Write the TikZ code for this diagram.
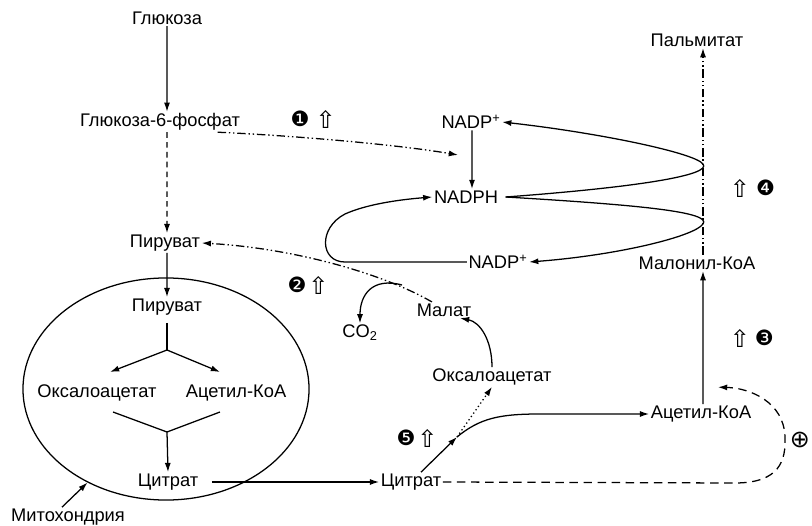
\documentclass[tikz,border=0pt]{standalone}
\usepackage{fontspec}
\setmainfont{Liberation Sans}
\newfontfamily\symfont{DejaVu Sans}
\usetikzlibrary{shapes,arrows,arrows.meta,positioning}

\begin{document}
\begin{tikzpicture}[x=0.025cm, y=-0.025cm, >={Latex[length=2.3mm,width=1.5mm]}]
    % Define styles
    \tikzstyle{chem} = [inner sep=1pt, font=\fontsize{13}{15}\selectfont]
    \tikzstyle{numdot} = [inner sep=0pt, font=\symfont\fontsize{15}{15}\selectfont]
    \tikzstyle{uparr} = [inner sep=0pt, font=\symfont\fontsize{17}{17}\selectfont]
    \tikzstyle{line} = [line width=0.9pt]
    \tikzstyle{arrow} = [line width=0.9pt,->]
    \tikzstyle{dashdotdot} = [line width=0.9pt, dash pattern=on 6pt off 2pt on 1pt off 2pt on 1pt off 2pt]
    \tikzstyle{shortdash} = [line width=0.9pt, dash pattern=on 4pt off 3pt]
    \tikzstyle{longdash} = [line width=0.9pt, dash pattern=on 6pt off 4pt]
    \useasboundingbox (0,0) rectangle (812,526);

    % Cytosol, left column
    \node [chem] (glu) at (167,18) {Глюкоза};
    \node [chem] (g6p) at (160,122) {Глюкоза-6-фосфат};
    \node [chem] (pir1) at (165,243) {Пируват};

    % Mitochondrion
    \node [ellipse, draw, line width=0.9pt, minimum width=7.15cm, minimum height=5.55cm, inner sep=0pt] (mito) at (166,389) {};
    \node [chem] (pir2) at (167,307) {Пируват};
    \node [chem] (oxa1) at (97,393) {Оксалоацетат};
    \node [chem] (acet1) at (236,393) {Ацетил-КоА};
    \node [chem] (cit1) at (168,482) {Цитрат};
    \node [chem] (mitolab) at (68,517) {Митохондрия};
    \coordinate (fork1) at (167,350);
    \coordinate (fork2) at (167,432);

    % NADPH cycle
    \node [chem] (nadp1) at (471,122) {NADP\textsuperscript{+}};
    \node [chem] (nadph) at (466,197) {NADPH};
    \node [chem] (nadp2) at (498,262) {NADP\textsuperscript{+}};

    % Malonyl and palmitate
    \node [chem] (malon) at (697,263) {Малонил-КоА};
    \node [chem] (palm) at (697,40) {Пальмитат};

    % Cytosol, right part
    \node [chem] (malat) at (444,310) {Малат};
    \node [chem] (co2) at (360,333) {CO\textsubscript{2}};
    \node [chem] (oxa2) at (492,377) {Оксалоацетат};
    \node [chem] (acet2) at (701,414) {Ацетил-КоА};
    \node [chem] (cit2) at (411,482) {Цитрат};
    \coordinate (co2br) at (402,285);
    \coordinate (br5) at (457,437);

    % Regulation marks
    \node [numdot] (n1) at (300,119) {❶};
    \node [uparr, right=4pt of n1] (up1) {⇧};
    \node [numdot] (n2) at (297,285) {❷};
    \node [uparr, right=1pt of n2] (up2) {⇧};
    \node [uparr] (up3) at (740,338) {⇧};
    \node [numdot, right=3pt of up3] (n3) {❸};
    \node [uparr] (up4) at (740,188) {⇧};
    \node [numdot, right=4pt of up4] (n4) {❹};
    \node [numdot] (n5) at (406,438) {❺};
    \node [uparr, right=1pt of n5] (up5) {⇧};
    \node [font=\symfont\fontsize{17}{17}\selectfont, inner sep=0pt] (plus) at (800,440) {⊕};

    % Arrows, left column
    \draw [arrow] (glu) -- ([xshift=0.175cm]g6p.north);
    \draw [shortdash,->] ([xshift=0.175cm]g6p.south) -- ([xshift=0.05cm]pir1.north);
    \draw [arrow] ([xshift=0.05cm]pir1.south) -- (pir2.north);
    \draw [line] ([yshift=-0.15cm]pir2.south) -- (fork1);
    \draw [arrow] (fork1) -- ([xshift=0.325cm,yshift=0.525cm]oxa1.center);
    \draw [arrow] (fork1) -- ([xshift=-0.4cm,yshift=0.525cm]acet1.center);
    \draw [line] ([xshift=0.4cm,yshift=-0.475cm]oxa1.center) -- (fork2);
    \draw [line] ([xshift=-0.4cm,yshift=-0.475cm]acet1.center) -- (fork2);
    \draw [arrow] (fork2) -- (cit1.north);
    \draw [arrow] ([xshift=0.3cm]cit1.east) -- (cit2.west);
    \draw [arrow] ([xshift=-0.15cm]mitolab.north) -- (mito.230);

    % Arrows, pentose phosphate and malic enzyme
    \draw [dashdotdot,->] ([xshift=-0.6cm]g6p.south east) .. controls (300,136) and (400,145) .. ([xshift=-0.2cm,yshift=1.05cm]nadph.center);
    \draw [dashdotdot,->] ([xshift=-0.3cm]malat.north) .. controls (380,272) and (290,248) .. (pir1.east);
    \draw [arrow] (co2br) .. controls (372,277) and (360,295) .. (co2.north);

    % Arrows, NADPH cycle
    \draw [arrow] ([xshift=0.025cm]nadp1.south) -- ([xshift=0.15cm]nadph.north);
    \draw [arrow] ([xshift=0.15cm]nadph.east) .. controls (640,187) and (712,175) .. (703,164) .. controls (695,153) and (600,133) .. (nadp1.east);
    \draw [arrow] ([xshift=0.15cm]nadph.east) .. controls (640,205) and (712,212) .. (703,224) .. controls (695,236) and (620,255) .. (nadp2.east);
    \draw [arrow] (nadp2.west) -- (345,262) .. controls (320,262) and (318,228) .. (345,214) .. controls (365,205) and (395,200) .. (nadph.west);

    % Arrows, citrate export
    \draw [arrow] ([xshift=0.25cm]cit2.north) -- (br5);
    \draw [arrow] (br5) .. controls (480,418) and (500,414) .. (540,414) -- (acet2.west);
    \draw [line, dotted, ->] (br5) -- (oxa2.south);
    \draw [arrow] (oxa2.north) .. controls (492,340) and (480,322) .. ([xshift=0.4cm]malat.south);
    \draw [arrow] ([xshift=0.05cm]acet2.north) -- ([xshift=0.15cm]malon.south);
    \draw [dashdotdot,->] ([xshift=0.15cm]malon.north) -- ([xshift=0.15cm]palm.south);
    \draw [longdash,->] (cit2.east) -- (735,483) .. controls (780,483) and (786,460) .. (785,437) .. controls (784,402) and (750,388) .. ([xshift=0.425cm,yshift=0.425cm]acet2.north);
\end{tikzpicture}
\end{document}
